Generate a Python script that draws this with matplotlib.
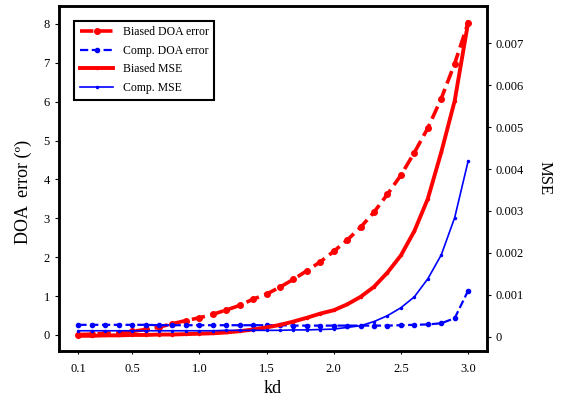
import numpy as np
import matplotlib
matplotlib.use('Agg')
import matplotlib.pyplot as plt

plt.rcParams['font.family'] = ['Liberation Serif', 'DejaVu Serif']

kd = [0.1, 0.2, 0.3, 0.4, 0.5, 0.6, 0.7, 0.8, 0.9, 1.0,
      1.1, 1.2, 1.3, 1.4, 1.5, 1.6, 1.7, 1.8, 1.9, 2.0,
      2.1, 2.2, 2.3, 2.4, 2.5, 2.6, 2.7, 2.8, 2.9, 3.0]

biased_doa = [0.01, 0.02, 0.04, 0.06, 0.09, 0.14, 0.20, 0.29, 0.37, 0.44,
              0.53, 0.64, 0.76, 0.92, 1.05, 1.23, 1.43, 1.65, 1.88, 2.15,
              2.44, 2.77, 3.16, 3.62, 4.11, 4.69, 5.32, 6.08, 6.98, 8.03]
comp_doa = [0.26, 0.26, 0.26, 0.26, 0.26, 0.26, 0.25, 0.25, 0.25, 0.25,
            0.25, 0.25, 0.25, 0.25, 0.25, 0.25, 0.24, 0.24, 0.24, 0.24,
            0.24, 0.24, 0.24, 0.24, 0.25, 0.26, 0.27, 0.30, 0.43, 1.14]
biased_mse = [0.00002, 0.00002, 0.00003, 0.00003, 0.00004, 0.00004, 0.00005, 0.00005, 0.00006, 0.00007,
              0.00008, 0.00010, 0.00013, 0.00017, 0.00022, 0.00028, 0.00036, 0.00045, 0.00055, 0.00063,
              0.00077, 0.00095, 0.00119, 0.00153, 0.00194, 0.00252, 0.00329, 0.00440, 0.00563, 0.00750]
comp_mse = [0.00014, 0.00014, 0.00014, 0.00014, 0.00014, 0.00014, 0.00014, 0.00014, 0.00014, 0.00014,
            0.00014, 0.00015, 0.00015, 0.00015, 0.00015, 0.00015, 0.00016, 0.00016, 0.00017, 0.00018,
            0.00022, 0.00026, 0.00036, 0.00050, 0.00069, 0.00095, 0.00138, 0.00195, 0.00284, 0.00419]

xticks = [0.1, 0.5, 1.0, 1.5, 2.0, 2.5, 3.0]
xticklabels = ['0.1', '0.5', '1.0', '1.5', '2.0', '2.5', '3.0']
mse_ticks = [0, 0.001, 0.002, 0.003, 0.004, 0.005, 0.006, 0.007]
mse_labels = ['0', '0.001', '0.002', '0.003', '0.004', '0.005', '0.006', '0.007']

fig = plt.figure(figsize=(5.61, 4.01), dpi=100)
ax = fig.add_axes([0.105, 0.125, 0.763, 0.86])
ax2 = ax.twinx()

l1, = ax.plot(kd, biased_doa, '--', color='#ff0000', lw=2.6, marker='o', ms=4,
              label='Biased DOA error')
l2, = ax.plot(kd, comp_doa, '--', color='#0000ff', lw=1.6, marker='o', ms=3,
              label='Comp. DOA error')
l3, = ax2.plot(kd, biased_mse, '-', color='#ff0000', lw=2.8, marker='.', ms=3,
               label='Biased MSE')
l4, = ax2.plot(kd, comp_mse, '-', color='#0000ff', lw=1.2, marker='.', ms=3,
               label='Comp. MSE')

ax.set_xlim(-0.045, 3.14)
ax.set_ylim(-0.41, 8.46)
ax2.set_ylim(-0.00034, 0.00789)

ax.set_xticks(xticks)
ax.set_xticklabels(xticklabels)
ax.set_yticks(range(0, 9))
ax2.set_yticks(mse_ticks)
ax2.set_yticklabels(mse_labels)

ax.tick_params(axis='x', length=2.5, width=0.8, pad=6, labelsize=9, direction='out')
ax.tick_params(axis='y', length=3, width=0.8, labelsize=9, direction='out')
ax2.tick_params(axis='y', length=3, width=0.8, labelsize=9, direction='out')

for a in (ax, ax2):
    for s in a.spines.values():
        s.set_linewidth(1.8)

ax.set_xlabel('kd', fontsize=13, labelpad=4)
ax.set_ylabel('DOA  error (º)', fontsize=13)
ax.yaxis.set_label_coords(-0.063, 0.46)
ax2.set_ylabel('MSE', fontsize=12, rotation=270, labelpad=20)

leg = ax2.legend(handles=[l1, l2, l3, l4], loc='upper left',
                 bbox_to_anchor=(0.022, 0.975), fontsize=8.5,
                 fancybox=False, framealpha=1, edgecolor='black',
                 handlelength=2.8, borderpad=0.5, labelspacing=0.55)
leg.get_frame().set_linewidth(1.5)

fig.savefig('out.png', dpi=100)
